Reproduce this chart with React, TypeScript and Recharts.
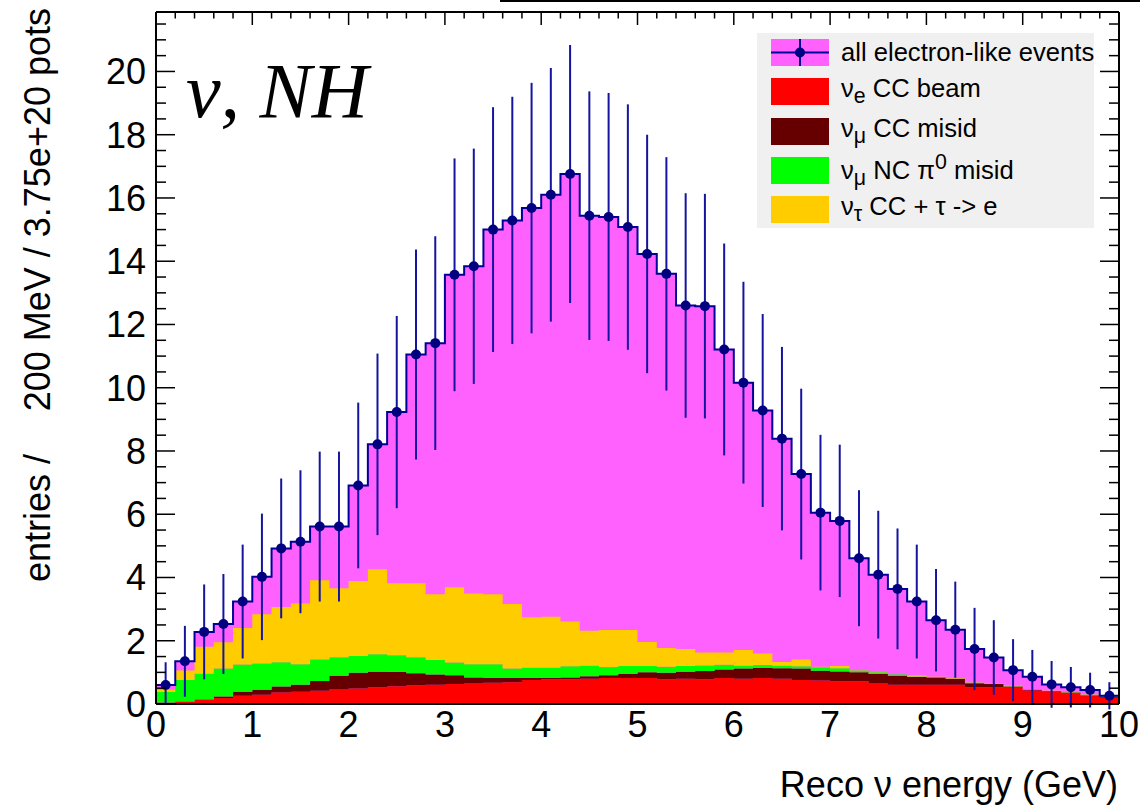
import React from "react";
import {
  ComposedChart,
  Area,
  Line,
  Scatter,
  ErrorBar,
  XAxis,
  YAxis,
} from "recharts";

const BIN = 0.2;
const Y_MAX = 21.88;

// all electron-like events, one value per 200 MeV bin from 0 to 10 GeV
const allEvents = [
  0.6, 1.35, 2.28, 2.53, 3.24, 4.02, 4.92, 5.13, 5.61, 5.61,
  6.91, 8.21, 9.23, 11.05, 11.41, 13.57, 13.84, 15.0, 15.29, 15.68,
  16.1, 16.76, 15.44, 15.4, 15.08, 14.23, 13.6, 12.6, 12.58, 11.21,
  10.16, 9.28, 8.39, 7.27, 6.05, 5.79, 4.61, 4.09, 3.64, 3.24,
  2.65, 2.35, 1.74, 1.47, 1.07, 0.86, 0.62, 0.53, 0.44, 0.26,
];

// vertical error bars (first bin stops at zero)
const allErrors: (number | [number, number])[] = [
  [0.6, 0.72], 1.12, 1.5, 1.58, 1.8, 2.0, 2.21, 2.26, 2.37, 2.37,
  2.62, 2.87, 3.04, 3.32, 3.38, 3.68, 3.72, 3.87, 3.91, 3.96,
  4.01, 4.08, 3.93, 3.92, 3.88, 3.77, 3.69, 3.55, 3.55, 3.35,
  3.19, 3.05, 2.9, 2.7, 2.46, 2.41, 2.15, 2.02, 1.91, 1.8,
  1.62, 1.52, 1.3, 1.18, 0.98, 0.85, 0.74, 0.64, 0.55, 0.43,
];

// stacked backgrounds, bottom to top
const nueBeam = [
  0.04, 0.07, 0.13, 0.19, 0.26, 0.29, 0.36, 0.39, 0.42, 0.46,
  0.49, 0.53, 0.56, 0.59, 0.61, 0.63, 0.65, 0.67, 0.69, 0.76,
  0.78, 0.78, 0.8, 0.82, 0.82, 0.82, 0.78, 0.8, 0.78, 0.82,
  0.8, 0.82, 0.8, 0.76, 0.74, 0.72, 0.72, 0.65, 0.61, 0.61,
  0.61, 0.61, 0.53, 0.53, 0.52, 0.43, 0.38, 0.34, 0.28, 0.2,
];
const numuCcMisid = [
  0.01, 0.01, 0.01, 0.05, 0.13, 0.16, 0.19, 0.22, 0.31, 0.43,
  0.5, 0.49, 0.45, 0.38, 0.32, 0.28, 0.19, 0.15, 0.13, 0.06,
  0.04, 0.06, 0.08, 0.09, 0.13, 0.18, 0.21, 0.22, 0.26, 0.27,
  0.32, 0.32, 0.33, 0.36, 0.31, 0.31, 0.28, 0.3, 0.28, 0.24,
  0.23, 0.19, 0.13, 0.1, 0.03, 0.02, 0.02, 0.02, 0.0, 0.04,
];
const numuNcMisid = [
  0.33, 0.68, 0.82, 0.88, 0.86, 0.83, 0.77, 0.65, 0.68, 0.59,
  0.53, 0.55, 0.53, 0.51, 0.46, 0.4, 0.42, 0.44, 0.3, 0.33,
  0.33, 0.35, 0.33, 0.26, 0.25, 0.2, 0.19, 0.18, 0.18, 0.15,
  0.09, 0.09, 0.08, 0.07, 0.11, 0.1, 0.06, 0.05, 0.04, 0.02,
  0.01, 0.01, 0.01, 0.01, 0.01, 0.01, 0.01, 0.01, 0.01, 0.01,
];
const nutauCc = [
  0.07, 0.3, 0.85, 0.83, 1.15, 1.56, 1.75, 1.92, 2.5, 2.18,
  2.37, 2.69, 2.28, 2.34, 2.08, 2.38, 2.23, 2.21, 2.04, 1.59,
  1.61, 1.42, 1.11, 1.17, 1.14, 0.76, 0.59, 0.54, 0.41, 0.39,
  0.5, 0.37, 0.12, 0.22, 0.02, 0.07, 0.01, 0.01, 0.0, 0.03,
  0.01, 0.01, 0.01, 0.01, 0.02, 0.01, 0.01, 0.01, 0.01, 0.0,
];

const xLabels = [0, 1, 2, 3, 4, 5, 6, 7, 8, 9, 10];
const xMinor = Array.from({ length: 51 }, (_, i) => +(i * BIN).toFixed(1));
const yMinor = Array.from({ length: 44 }, (_, i) => i * 0.5);

const MAGENTA = "#ff61ff";
const NAVY = "#000099";

// bin edges for the step areas; the last bin is repeated at x = 10
const edgeRows = xMinor.map((x, i) => {
  const k = Math.min(i, allEvents.length - 1);
  return {
    x,
    total: allEvents[k],
    beam: nueBeam[k],
    ccMisid: numuCcMisid[k],
    ncMisid: numuNcMisid[k],
    tau: nutauCc[k],
  };
});

const pointRows = allEvents.map((v, i) => ({
  x: +(i * BIN + BIN / 2).toFixed(2),
  v,
  err: allErrors[i],
}));

const font = "'Liberation Sans', Arial, Helvetica, sans-serif";

const isMajor = (v: number, step: number) =>
  Math.abs(v / step - Math.round(v / step)) < 1e-6;

const LeftTick = (props: any) => {
  const { x, y, payload } = props;
  const v = payload.value;
  const major = isMajor(v, 2);
  const ax = x + 10;
  return (
    <g>
      <line x1={ax} x2={ax + (major ? 19 : 10)} y1={y} y2={y} stroke="#000" strokeWidth={1.5} />
      {major && (
        <text x={x} y={y} dy="0.36em" textAnchor="end" fontSize={36} fontFamily={font} fill="#000">
          {v}
        </text>
      )}
    </g>
  );
};

const RightTick = (props: any) => {
  const { x, y, payload } = props;
  const major = isMajor(payload.value, 2);
  return <line x1={x} x2={x - (major ? 19 : 10)} y1={y} y2={y} stroke="#000" strokeWidth={1.5} />;
};

const TopTick = (props: any) => {
  const { x, y, payload } = props;
  const major = isMajor(payload.value, 1);
  return <line x1={x} x2={x} y1={y} y2={y + (major ? 13 : 6.5)} stroke="#000" strokeWidth={1.5} />;
};

const BottomTick = (props: any) => {
  const { x, y, payload } = props;
  return (
    <text x={x} y={y} dy={26} textAnchor="middle" fontSize={36} fontFamily={font} fill="#000">
      {payload.value}
    </text>
  );
};

const Dot = (props: any) => <circle cx={props.cx} cy={props.cy} r={5} fill="#000080" />;

const legendRows = [
  { key: "all", color: MAGENTA, label: <>all electron-like events</> },
  { key: "beam", color: "#ff0000", label: <>ν<sub>e</sub> CC beam</> },
  { key: "cc", color: "#660000", label: <>ν<sub>μ</sub> CC misid</> },
  { key: "nc", color: "#00ff00", label: <>ν<sub>μ</sub> NC π<sup>0</sup> misid</> },
  { key: "tau", color: "#ffcc00", label: <>ν<sub>τ</sub> CC + τ -&gt; e</> },
];

const LegendBox = () => (
  <div
    style={{
      position: "absolute",
      left: 757,
      top: 33,
      width: 337,
      height: 195,
      background: "#f0f0f0",
      fontFamily: font,
      fontSize: 25.6,
      color: "#000",
    }}
  >
    {legendRows.map((r, i) => (
      <div
        key={r.key}
        style={{
          position: "absolute",
          left: 0,
          top: i * 39.3,
          height: 39.3,
          width: 337,
          display: "flex",
          alignItems: "center",
        }}
      >
        <svg width={58} height={27} style={{ marginLeft: 14, flex: "none" }}>
          <rect x={0} y={0} width={58} height={27} fill={r.color} />
          {r.key === "all" && (
            <g>
              <line x1={0} x2={58} y1={13.5} y2={13.5} stroke={NAVY} strokeWidth={2} />
              <line x1={29} x2={29} y1={0} y2={27} stroke={NAVY} strokeWidth={2} />
              <circle cx={29} cy={13.5} r={5} fill="#000080" />
            </g>
          )}
        </svg>
        <span style={{ marginLeft: 12, whiteSpace: "nowrap", lineHeight: 1 }}>{r.label}</span>
      </div>
    ))}
  </div>
);

export default function App() {
  return (
    <div
      style={{
        position: "absolute",
        left: 0,
        top: 0,
        width: 1140,
        height: 808,
        background: "#fff",
        fontFamily: font,
        overflow: "hidden",
      }}
    >
      <div style={{ position: "absolute", left: 500, top: 0, width: 640, height: 2, background: "#000" }} />
      <ComposedChart
        width={1140}
        height={808}
        data={edgeRows}
        margin={{ top: 11, right: 20, bottom: 0, left: 0 }}
      >
        <XAxis
          xAxisId="b"
          dataKey="x"
          type="number"
          domain={[0, 10]}
          allowDataOverflow
          ticks={xLabels}
          interval={0}
          height={104}
          tickSize={0}
          tickMargin={7}
          tickLine={false}
          axisLine={{ stroke: "#000", strokeWidth: 2 }}
          tick={<BottomTick />}
        />
        <XAxis
          xAxisId="t"
          orientation="top"
          dataKey="x"
          type="number"
          domain={[0, 10]}
          allowDataOverflow
          ticks={xMinor}
          interval={0}
          height={1}
          tickSize={0}
          tickMargin={0}
          tickLine={false}
          axisLine={{ stroke: "#000", strokeWidth: 2 }}
          tick={<TopTick />}
        />
        <YAxis
          yAxisId="l"
          type="number"
          domain={[0, Y_MAX]}
          allowDataOverflow
          ticks={yMinor}
          interval={0}
          width={156}
          tickSize={0}
          tickMargin={10}
          tickLine={false}
          axisLine={{ stroke: "#000", strokeWidth: 2 }}
          tick={<LeftTick />}
        />
        <YAxis
          yAxisId="r"
          orientation="right"
          type="number"
          domain={[0, Y_MAX]}
          allowDataOverflow
          ticks={yMinor}
          interval={0}
          width={1}
          tickSize={0}
          tickMargin={0}
          tickLine={false}
          axisLine={{ stroke: "#000", strokeWidth: 2 }}
          tick={<RightTick />}
        />
        <Area
          xAxisId="b"
          yAxisId="l"
          type="stepAfter"
          dataKey="total"
          fill={MAGENTA}
          fillOpacity={1}
          stroke="none"
          isAnimationActive={false}
        />
        <Area xAxisId="b" yAxisId="l" type="stepAfter" dataKey="beam" stackId="bg" fill="#ff0000" fillOpacity={1} stroke="none" isAnimationActive={false} />
        <Area xAxisId="b" yAxisId="l" type="stepAfter" dataKey="ccMisid" stackId="bg" fill="#660000" fillOpacity={1} stroke="none" isAnimationActive={false} />
        <Area xAxisId="b" yAxisId="l" type="stepAfter" dataKey="ncMisid" stackId="bg" fill="#00ff00" fillOpacity={1} stroke="none" isAnimationActive={false} />
        <Area xAxisId="b" yAxisId="l" type="stepAfter" dataKey="tau" stackId="bg" fill="#ffcc00" fillOpacity={1} stroke="none" isAnimationActive={false} />
        <Line
          xAxisId="b"
          yAxisId="l"
          type="stepAfter"
          dataKey="total"
          stroke={NAVY}
          strokeWidth={2}
          dot={false}
          isAnimationActive={false}
        />
        <Scatter
          xAxisId="b"
          yAxisId="l"
          data={pointRows}
          dataKey="v"
          shape={<Dot />}
          isAnimationActive={false}
        >
          <ErrorBar dataKey="err" direction="y" width={0} stroke="#1414a0" strokeWidth={2} isAnimationActive={false} />
        </Scatter>
      </ComposedChart>
      <svg
        width={1140}
        height={808}
        style={{ position: "absolute", left: 0, top: 0, pointerEvents: "none" }}
      >
        <text x={186} y={117} fontFamily="'Liberation Serif', 'Times New Roman', serif" fontStyle="italic" fontSize={78} fill="#000">
          ν, NH
        </text>
        <text x={1118} y={797} textAnchor="end" fontSize={36} fontFamily={font} fill="#000">
          Reco ν energy (GeV)
        </text>
        <text transform="translate(50, 582) rotate(-90)" fontSize={36} fontFamily={font} fill="#000">
          entries /
        </text>
        <text transform="translate(50, 8) rotate(-90)" textAnchor="end" fontSize={36} fontFamily={font} fill="#000">
          200 MeV / 3.75e+20 pots
        </text>
      </svg>
      <LegendBox />
    </div>
  );
}
